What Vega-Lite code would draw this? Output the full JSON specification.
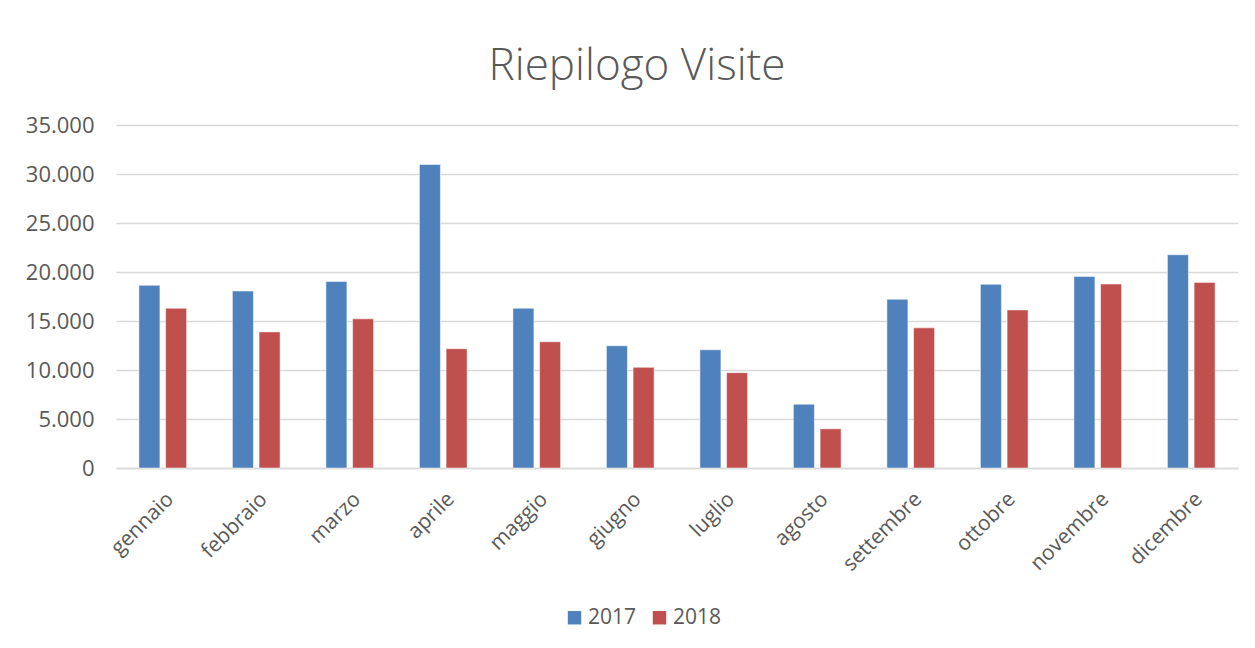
{
  "$schema": "https://vega.github.io/schema/vega-lite/v6.json",
  "width": 1122,
  "height": 343,
  "autosize": {"type": "none"},
  "padding": {"left": 116, "top": 125, "right": 17, "bottom": 180},
  "background": "white",
  "title": {
    "text": "Riepilogo Visite",
    "fontSize": 44,
    "font": "Open Sans",
    "fontWeight": 300,
    "color": "#595959",
    "anchor": "middle",
    "dx": -40,
    "offset": 25
  },
  "data": {
    "values": [
      {"mese": "gennaio", "anno": "2017", "visite": 18640},
      {"mese": "gennaio", "anno": "2018", "visite": 16300},
      {"mese": "febbraio", "anno": "2017", "visite": 18060},
      {"mese": "febbraio", "anno": "2018", "visite": 13890},
      {"mese": "marzo", "anno": "2017", "visite": 19040},
      {"mese": "marzo", "anno": "2018", "visite": 15220},
      {"mese": "aprile", "anno": "2017", "visite": 30970},
      {"mese": "aprile", "anno": "2018", "visite": 12170},
      {"mese": "maggio", "anno": "2017", "visite": 16300},
      {"mese": "maggio", "anno": "2018", "visite": 12880},
      {"mese": "giugno", "anno": "2017", "visite": 12470},
      {"mese": "giugno", "anno": "2018", "visite": 10270},
      {"mese": "luglio", "anno": "2017", "visite": 12060},
      {"mese": "luglio", "anno": "2018", "visite": 9730},
      {"mese": "agosto", "anno": "2017", "visite": 6510},
      {"mese": "agosto", "anno": "2018", "visite": 4000},
      {"mese": "settembre", "anno": "2017", "visite": 17210},
      {"mese": "settembre", "anno": "2018", "visite": 14300},
      {"mese": "ottobre", "anno": "2017", "visite": 18740},
      {"mese": "ottobre", "anno": "2018", "visite": 16130},
      {"mese": "novembre", "anno": "2017", "visite": 19550},
      {"mese": "novembre", "anno": "2018", "visite": 18770},
      {"mese": "dicembre", "anno": "2017", "visite": 21760},
      {"mese": "dicembre", "anno": "2018", "visite": 18940}
    ]
  },
  "mark": {"type": "bar", "stroke": "white", "strokeWidth": 0.5},
  "encoding": {
    "x": {
      "field": "mese",
      "type": "nominal",
      "sort": null,
      "title": null,
      "scale": {"paddingInner": 0.49, "paddingOuter": 0.245},
      "axis": {
        "labelAngle": -45,
        "labelFontSize": 21,
        "labelFont": "Open Sans",
        "labelColor": "#595959",
        "ticks": false,
        "domainColor": "#d9d9d9",
        "domainWidth": 1.5,
        "labelPadding": 20,
        "grid": false
      }
    },
    "xOffset": {
      "field": "anno",
      "type": "nominal",
      "scale": {"paddingInner": 0.213, "paddingOuter": 0}
    },
    "y": {
      "field": "visite",
      "type": "quantitative",
      "title": null,
      "scale": {"domain": [0, 35000], "nice": false},
      "axis": {
        "values": [0, 5000, 10000, 15000, 20000, 25000, 30000, 35000],
        "labelExpr": "replace(format(datum.value, ','), ',', '.')",
        "labelFontSize": 22,
        "labelFont": "Open Sans",
        "labelColor": "#595959",
        "ticks": false,
        "domain": false,
        "labelPadding": 22,
        "gridColor": "#d9d9d9",
        "gridWidth": 1.5
      }
    },
    "color": {
      "field": "anno",
      "type": "nominal",
      "title": null,
      "scale": {"domain": ["2017", "2018"], "range": ["#4f81bd", "#c0504d"]},
      "legend": {
        "orient": "none",
        "legendX": 448,
        "legendY": 482,
        "direction": "horizontal",
        "symbolType": "square",
        "symbolSize": 180,
        "symbolStrokeWidth": 0,
        "labelFontSize": 21,
        "labelFont": "Open Sans",
        "labelColor": "#595959",
        "columnPadding": 12,
        "labelOffset": 3
      }
    }
  },
  "config": {"view": {"stroke": null}}
}
